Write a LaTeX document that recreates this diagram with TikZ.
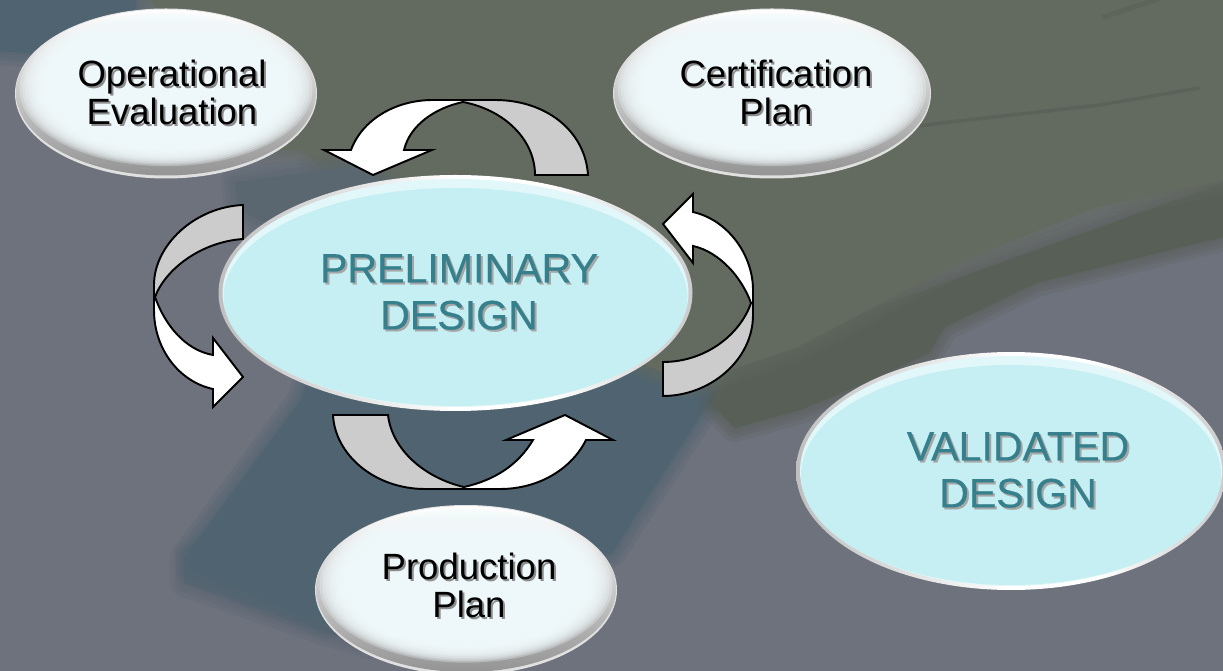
\documentclass[tikz,border=0pt]{standalone}
\usepackage{fontspec}
\setmainfont{Liberation Sans}
\newfontfamily\heavyface[FakeBold=0.5]{Liberation Sans}
\usetikzlibrary{calc}
\definecolor{slatebg}{HTML}{6E727D}
\definecolor{olivebg}{HTML}{636A5F}
\definecolor{olivedark}{HTML}{585F57}
\definecolor{tealbg}{HTML}{4F6470}
\definecolor{tealsoft}{HTML}{5A6770}
\definecolor{tealedge}{HTML}{5A6573}
\definecolor{paledisc}{HTML}{F1FAFC}
\definecolor{aquadisc}{HTML}{C5EFF2}
\definecolor{aquatext}{HTML}{35808C}
\pgfdeclarehorizontalshading{rimshade}{100bp}{color(0bp)=(black!50); color(32bp)=(black!18); color(50bp)=(white); color(60bp)=(white); color(82bp)=(black!30); color(100bp)=(black!55)}
\tikzset{
	bandgrey/.style={draw=black, line width=1.1pt, line join=miter, fill=black!20},
	bandwhite/.style={draw=black, line width=1.1pt, line join=miter, fill=white},
	darklabel/.style={inner sep=0, align=center, text=black, font=\fontsize{20.8}{21.6}\selectfont},
	aqualabel/.style={inner sep=0, align=center, text=aquatext, font=\heavyface\fontsize{23.4}{26.7}\selectfont},
}
\def\softpatch[#1]#2;{
	\foreach \w in {16,11,7,3}{\draw[draw=#1, draw opacity=.22, line width=\w pt, line join=round] #2 -- cycle;}
	\fill[#1] #2 -- cycle;
}
\def\silverdisc(#1)(#2:#3){
	\fill[black!12] (#1) ellipse (#2 and #3);
	\shade[top color=white, middle color=black!30, bottom color=black!42] ($(#1)+(0,-1)$) ellipse ({#2-1} and {#3-2});
	\foreach \f in {.97,.95,...,.73}{\fill[paledisc, fill opacity=.3] ($(#1)+(0,-4)$) ellipse ({#2*\f} and {#3*\f*.93});}
}
\def\aquadisc(#1)(#2:#3){
	\shade[shading=rimshade] (#1) ellipse (#2 and #3);
	\fill[aquadisc!50!white] (#1) ellipse ({#2-4} and {#3-4});
	\fill[aquadisc] ($(#1)+(0,4)$) ellipse ({#2-5} and {#3-9});
}

\begin{document}
\begin{tikzpicture}[x=0.02cm, y=-0.02cm]
	\path[use as bounding box, clip] (0,0) rectangle (1223,671);
	%%%%% BACKGROUND %%%%%
	\fill[slatebg] (0,0) rectangle (1223,671);
	\softpatch[tealbg] (-20,-20) -- (140,-20) -- (130,40) -- (60,55) -- (-20,50);
	\softpatch[tealedge] (184,556) -- (184,583) -- (326,632) -- (370,645) -- (370,620) -- (200,550);
	\softpatch[tealbg] (301,400) -- (330,300) -- (640,300) -- (700,370) -- (720,400) -- (704,410) -- (612,553) -- (326,625) -- (190,570) -- (190,550);
	\softpatch[olivedark] (1240,177) -- (1240,233) -- (1036,283) -- (945,327) -- (929,353) -- (860,385) -- (800,410) -- (735,428) -- (712,405) -- (730,360);
	\softpatch[olivebg] (140,-20) -- (1240,-20) -- (1240,177) -- (1096,207) -- (949,267) -- (798,347) -- (739,367) -- (690,385) -- (500,300) -- (300,150) -- (240,150);
	\softpatch[tealsoft] (235,182) -- (310,172) -- (365,165) -- (385,185) -- (440,200) -- (300,240) -- (238,210);
	\draw[olivedark, line width=2pt, draw opacity=.7, line cap=round] (790,142) -- (950,122) -- (1100,105) -- (1199,88);
	\draw[olivedark, line width=3pt, draw opacity=.5, line cap=round] (1104,17) -- (1160,-2);
	
	%%%%% DISCS %%%%%
	\silverdisc(166,93.5)(151:85);
	\silverdisc(772,93.5)(159:85);
	\silverdisc(466,590)(151:85);
	\aquadisc(455.5,293)(237:118);
	\aquadisc(1011,471)(215:119);
	
	%%%%% LABELS %%%%%
	\node[darklabel, text=black!45] (operationalshade) at (174,94) {Operational\\Evaluation};
	\node[darklabel] (operational) at (172,92) {Operational\\Evaluation};
	\node[darklabel, text=black!45] (certificationshade) at (778,94) {Certification\\Plan};
	\node[darklabel] (certification) at (776,92) {Certification\\Plan};
	\node[darklabel, text=black!45] (productionshade) at (471,587) {Production\\Plan};
	\node[darklabel] (production) at (469,585) {Production\\Plan};
	\node[aqualabel, text=black!35] (preliminaryshade) at (461,294) {PRELIMINARY\\DESIGN};
	\node[aqualabel] (preliminary) at (459,292) {PRELIMINARY\\DESIGN};
	\node[aqualabel, text=black!35] (validatedshade) at (1020,472) {VALIDATED\\DESIGN};
	\node[aqualabel] (validated) at (1018,470) {VALIDATED\\DESIGN};
	
	%%%%% BANDS %%%%%
	\draw[bandgrey] (588,175) .. controls (585,130) and (545,100) .. (495,100) -- (463,100) -- (463,102) .. controls (505,110) and (535,140) .. (535,175) -- cycle;
	\draw[bandwhite] (463,100) -- (433,100) .. controls (395,100) and (362,120) .. (351,150) -- (324,150) -- (373,175) -- (432,150) -- (404,150) .. controls (410,125) and (435,108) .. (463,102) -- cycle;
	
	\draw[bandgrey] (243,205) .. controls (195,207) and (154,245) .. (154,285) -- (154,297) -- (155,297) .. controls (165,270) and (200,242) .. (243,239) -- cycle;
	\draw[bandwhite] (154,297) -- (154,310) .. controls (154,350) and (180,382) .. (213,389) -- (213,407) -- (243,377) -- (213,338) -- (213,355) .. controls (185,350) and (165,325) .. (155,297) -- cycle;
	
	\draw[bandgrey] (663,396) .. controls (710,396) and (753,360) .. (753,315) -- (753,303) -- (751,303) .. controls (740,335) and (705,362) .. (663,362) -- cycle;
	\draw[bandwhite] (753,303) -- (753,290) .. controls (753,255) and (728,220) .. (693,212) -- (693,194) -- (663,224) -- (693,263) -- (693,246) .. controls (720,252) and (742,278) .. (751,303) -- cycle;
	
	\draw[bandgrey] (333,415) .. controls (335,455) and (375,489) .. (425,489) -- (463,489) -- (464,487) .. controls (425,478) and (392,450) .. (388,415) -- cycle;
	\draw[bandwhite] (463,489) -- (500,489) .. controls (540,489) and (572,468) .. (586,440) -- (613,440) -- (565,415) -- (506,440) -- (533,440) .. controls (518,465) and (495,480) .. (464,487) -- cycle;
\end{tikzpicture}
\end{document}
